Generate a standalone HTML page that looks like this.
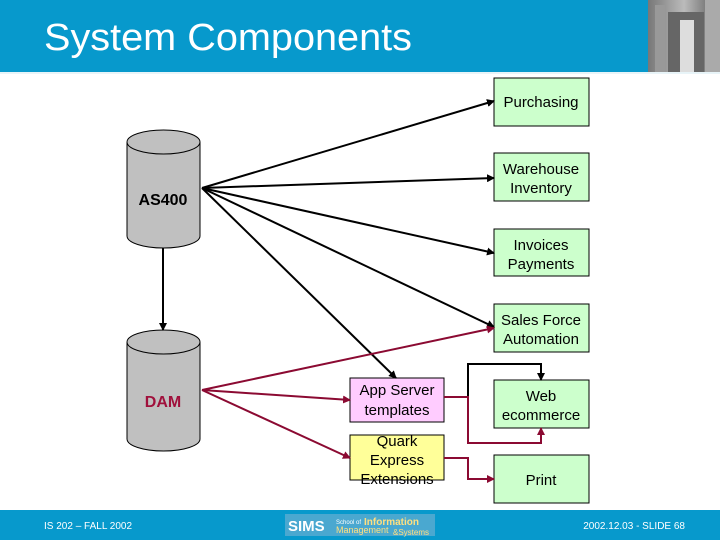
<!DOCTYPE html>
<html><head><meta charset="utf-8"><style>
html,body{margin:0;padding:0;width:720px;height:540px;overflow:hidden;background:#fff;font-family:"Liberation Sans",Arial,sans-serif}
svg{position:absolute;left:0;top:0}
</style></head><body>
<svg width="720" height="540" viewBox="0 0 720 540" xmlns="http://www.w3.org/2000/svg" font-family="Liberation Sans, Arial, sans-serif">
<defs>
<marker id="ab" markerWidth="8" markerHeight="8" refX="7" refY="4" orient="auto" markerUnits="userSpaceOnUse"><path d="M0,0 L8,4 L0,8 z" fill="#000"/></marker>
<marker id="ar" markerWidth="8" markerHeight="8" refX="7" refY="4" orient="auto" markerUnits="userSpaceOnUse"><path d="M0,0 L8,4 L0,8 z" fill="#8b0a32"/></marker>
<linearGradient id="ph" x1="0" x2="1"><stop offset="0" stop-color="#777"/><stop offset="0.5" stop-color="#bbb"/><stop offset="1" stop-color="#555"/></linearGradient>
</defs>
<rect x="0" y="0" width="720" height="72" fill="#0799cc"/>
<rect x="648" y="0" width="72" height="72" fill="url(#ph)"/>
<rect x="655" y="5" width="10" height="67" fill="#999"/>
<rect x="668" y="12" width="36" height="60" fill="#666"/>
<rect x="680" y="20" width="14" height="52" fill="#ddd"/>
<rect x="705" y="0" width="15" height="72" fill="#aaa"/>
<text x="44" y="50" font-size="38" fill="#fff" textLength="368" lengthAdjust="spacingAndGlyphs">System Components</text>
<rect x="0" y="72" width="720" height="2" fill="#e8f4f8"/>

<g stroke="#000" stroke-width="1" fill="#c0c0c0">
<path d="M127,142 L127,236 A36.5,12 0 0 0 200,236 L200,142"/>
<ellipse cx="163.5" cy="142" rx="36.5" ry="12"/>
<path d="M127,342 L127,439 A36.5,12 0 0 0 200,439 L200,342"/>
<ellipse cx="163.5" cy="342" rx="36.5" ry="12"/>
</g>
<text x="163" y="205" font-size="16" font-weight="bold" text-anchor="middle">AS400</text>
<text x="163" y="407" font-size="16" font-weight="bold" text-anchor="middle" fill="#a0103c">DAM</text>

<g stroke="#000" stroke-width="1" fill="#ccffcc">
<rect x="494" y="78" width="95" height="48"/>
<rect x="494" y="153" width="95" height="48"/>
<rect x="494" y="229" width="95" height="47"/>
<rect x="494" y="304" width="95" height="48"/>
<rect x="494" y="380" width="95" height="48"/>
<rect x="494" y="455" width="95" height="48"/>
<rect x="350" y="378" width="94" height="44" fill="#ffccff"/>
<rect x="350" y="435" width="94" height="45" fill="#ffff99"/>
</g>
<g font-size="15" text-anchor="middle" fill="#000">
<text x="541" y="107">Purchasing</text>
<text x="541" y="174">Warehouse</text><text x="541" y="193">Inventory</text>
<text x="541" y="250">Invoices</text><text x="541" y="269">Payments</text>
<text x="541" y="325">Sales Force</text><text x="541" y="344">Automation</text>
<text x="541" y="401">Web</text><text x="541" y="420">ecommerce</text>
<text x="541" y="485">Print</text>
<text x="397" y="395">App Server</text><text x="397" y="415">templates</text>
<text x="397" y="446">Quark</text><text x="397" y="465">Express</text><text x="397" y="484">Extensions</text>
</g>

<g stroke="#000" stroke-width="2" fill="none" marker-end="url(#ab)">
<line x1="202" y1="188" x2="494" y2="101"/>
<line x1="202" y1="188" x2="494" y2="178"/>
<line x1="202" y1="188" x2="494" y2="253"/>
<line x1="202" y1="188" x2="494" y2="327"/>
<line x1="202" y1="188" x2="396" y2="378"/>
<line x1="163" y1="248" x2="163" y2="330"/>
<polyline points="468,398 468,364 541,364 541,380"/>
</g>
<g stroke="#8b0a32" stroke-width="2" fill="none" marker-end="url(#ar)">
<line x1="202" y1="390" x2="494" y2="328"/>
<line x1="202" y1="390" x2="350" y2="400"/>
<line x1="202" y1="390" x2="350" y2="458"/>
<polyline points="444,397 468,397 468,443 541,443 541,428"/>
<polyline points="444,458 468,458 468,479 494,479"/>
</g>

<rect x="0" y="510" width="720" height="30" fill="#0799cc"/>
<text x="44" y="529" font-size="10" fill="#fff">IS 202 – FALL 2002</text>
<rect x="285" y="514" width="150" height="22" fill="#4aa8d0"/>
<text x="288" y="531" font-size="15" font-weight="bold" fill="#fff">SIMS</text>
<text x="336" y="524" font-size="6" fill="#fff">School of</text>
<text x="364" y="525" font-size="10" font-weight="bold" fill="#ffe080">Information</text>
<text x="336" y="533" font-size="9" fill="#ffe080">Management</text>
<text x="393" y="535" font-size="8" fill="#ffe080">&amp;Systems</text>
<text x="685" y="529" font-size="10" fill="#fff" text-anchor="end">2002.12.03 - SLIDE 68</text>
</svg>
</body></html>
